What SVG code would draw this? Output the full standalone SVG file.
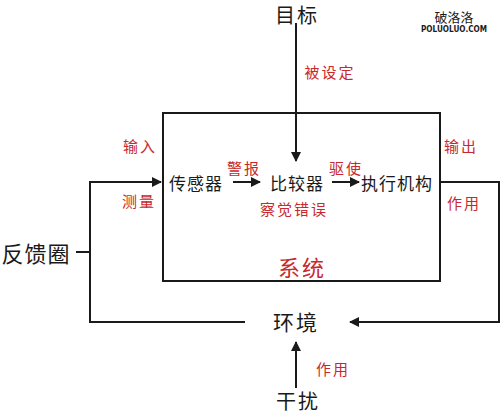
<svg xmlns="http://www.w3.org/2000/svg" width="500" height="414" viewBox="0 0 500 414">
<style>
.t{font-family:"Noto Sans CJK SC","Noto Sans",sans-serif;fill:#1a1a1a;text-anchor:middle;dominant-baseline:central}
.r{font-family:"Noto Sans CJK SC","Noto Sans",sans-serif;fill:#c8282e;text-anchor:middle;dominant-baseline:central;font-size:15px;letter-spacing:2px}
.l{fill:none;stroke:#1a1a1a;stroke-width:2}
</style>
<defs>
<marker id="a" markerWidth="10" markerHeight="10" refX="9" refY="5" orient="auto" markerUnits="userSpaceOnUse"><path d="M0,0 L10,5 L0,10 Z" fill="#1a1a1a"/></marker>
</defs>
<rect width="500" height="414" fill="#fff"/>
<g id="watermark">
<text x="454" y="16" class="t" font-size="13">破洛洛</text>
<text x="454" y="29" class="t" style="font-family:'DejaVu Sans',sans-serif;font-weight:bold;font-size:8px" textLength="66" lengthAdjust="spacingAndGlyphs">POLUOLUO.COM</text>
</g>
<g id="system">
<rect x="163" y="113" width="277" height="168" class="l"/>
<text x="302" y="266" class="r" style="font-size:22px;letter-spacing:2px">系统</text>
</g>
<g id="connectors">
<path d="M296,23 V161" class="l" marker-end="url(#a)"/>
<path d="M233,182 H260" class="l" marker-end="url(#a)"/>
<path d="M332,182 H359" class="l" marker-end="url(#a)"/>
<path d="M440,182 H499 V322 H350" class="l" marker-end="url(#a)"/>
<path d="M245,322 H90 V182 H161" class="l" marker-end="url(#a)"/>
<path d="M76,252 H90" class="l"/>
<path d="M296,388 V342" class="l" marker-end="url(#a)"/>
</g>
<g id="goal"><text x="297" y="14" class="t" font-size="20" letter-spacing="2">目标</text></g>
<g id="sensor"><text x="196" y="182" class="t" font-size="17" letter-spacing="1">传感器</text></g>
<g id="comparator"><text x="297" y="182" class="t" font-size="17" letter-spacing="1">比较器</text></g>
<g id="actuator"><text x="397" y="182" class="t" font-size="17" letter-spacing="1">执行机构</text></g>
<g id="environment"><text x="296" y="321" class="t" font-size="21" letter-spacing="2">环境</text></g>
<g id="disturbance"><text x="298" y="400" class="t" font-size="20" letter-spacing="2">干扰</text></g>
<g id="feedback"><text x="36" y="252" class="t" font-size="22" letter-spacing="1">反馈圈</text></g>
<g id="labels">
<text x="330" y="71" class="r">被设定</text>
<text x="140" y="145" class="r">输入</text>
<text x="139" y="200" class="r">测量</text>
<text x="244" y="167" class="r">警报</text>
<text x="346" y="167" class="r">驱使</text>
<text x="294" y="208" class="r">察觉错误</text>
<text x="461" y="145" class="r">输出</text>
<text x="464" y="202" class="r">作用</text>
<text x="333" y="368" class="r">作用</text>
</g>
</svg>
